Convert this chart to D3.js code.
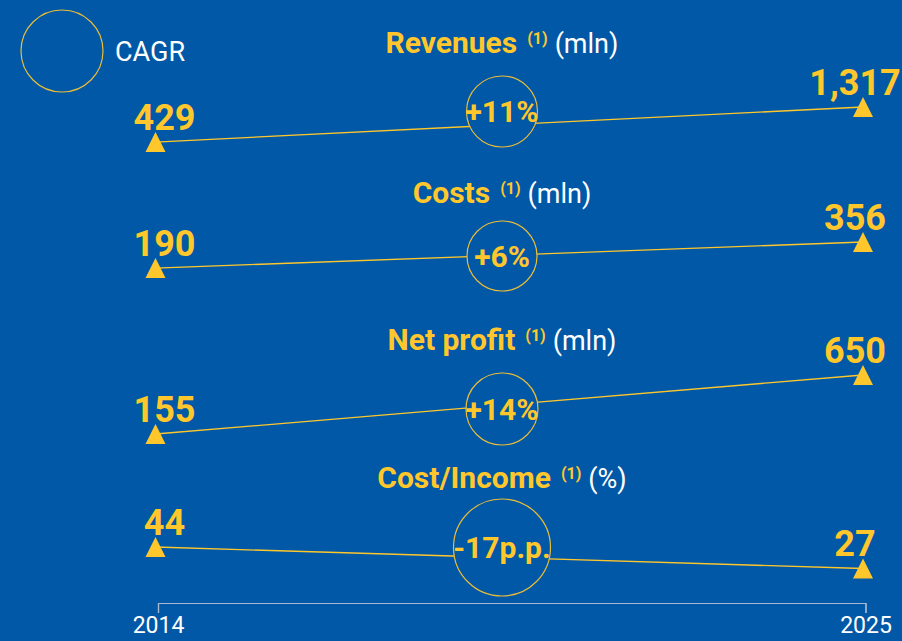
<!DOCTYPE html>
<html>
<head>
<meta charset="utf-8">
<script src="https://cdn.jsdelivr.net/npm/d3@7"></script>
<style>
  html, body { margin: 0; padding: 0; background: #0058A6; }
  svg { display: block; }
  text { font-family: Roboto, "Noto Sans", sans-serif; }
</style>
</head>
<body>
<script>
// ---- data ----
const metrics = ["Revenues", "Costs", "Net profit", "Cost/Income"];
const units = ["(mln)", "(mln)", "(mln)", "(%)"];
const footnote = "(1)";
const years = [2014, 2025];
const startValues = [429, 190, 155, 44];
const endValues = [1317, 356, 650, 27];
const cagrLabels = ["+11%", "+6%", "+14%", "-17p.p."];
const legendLabel = "CAGR";

// ---- layout ----
const W = 902, H = 641;
const BG = "#0058A6", YEL = "#FFC72C", CIRC = "#E9BC3A", AXIS = "#A9B9D3";
const centerX = 502;
const panelBottom = [159, 298, 452.5, 602.6];
const panelHeight = [52, 56, 77.5, 55.6];
const titleY = [53, 203, 350, 488];
const circleY = [111.5, 256, 409, 547.5];
const circleR = [35.5, 35, 36, 48.5];
const axisY = 603;

const svg = d3.select("body").append("svg").attr("width", W).attr("height", H);
svg.append("rect").attr("width", W).attr("height", H).attr("fill", BG);

const x = d3.scaleLinear().domain(years).range([155.5, 863]);
const fmt = d3.format(",");

// legend
svg.append("circle").attr("cx", 62).attr("cy", 51).attr("r", 41)
  .attr("fill", "none").attr("stroke", CIRC).attr("stroke-width", 1.2);
svg.append("text").attr("x", 115).attr("y", 61).attr("fill", "#fff")
  .attr("font-size", 27).text(legendLabel);

const tri = "M0,-10L10,10L-10,10Z";

metrics.forEach((m, i) => {
  const vals = [startValues[i], endValues[i]];
  const maxV = Math.max(...vals);
  const y = d3.scaleLinear().domain([0, maxV])
    .range([panelBottom[i], panelBottom[i] - panelHeight[i]]);
  const pts = years.map((yr, j) => ({ yr, v: vals[j] }));
  const g = svg.append("g");

  // title
  const t = g.append("text").attr("x", centerX).attr("y", titleY[i])
    .attr("text-anchor", "middle");
  t.append("tspan").attr("font-size", 30).attr("font-weight", 700)
    .attr("fill", YEL).text(m);
  t.append("tspan").attr("font-size", 16).attr("font-weight", 700)
    .attr("fill", YEL).attr("dx", 10).attr("dy", -9).text(footnote);
  t.append("tspan").attr("font-size", 27).attr("fill", "#fff")
    .attr("dx", 7).attr("dy", 9).text(units[i]);

  // line
  g.append("path").datum(pts)
    .attr("d", d3.line().x(d => x(d.yr)).y(d => y(d.v)))
    .attr("fill", "none").attr("stroke", YEL).attr("stroke-width", 1.3);

  // triangles
  g.selectAll("path.tri").data(pts).join("path").attr("class", "tri")
    .attr("d", tri)
    .attr("transform", d => `translate(${x(d.yr)},${y(d.v)})`)
    .attr("fill", YEL);

  // value labels
  g.selectAll("text.val").data(pts).join("text").attr("class", "val")
    .attr("x", (d, j) => x(d.yr) + (j === 0 ? 9 : -8))
    .attr("y", d => y(d.v) - 12)
    .attr("text-anchor", "middle")
    .attr("font-size", 36).attr("font-weight", 700).attr("fill", YEL)
    .text(d => fmt(d.v));

  // CAGR circle
  g.append("circle").attr("cx", centerX).attr("cy", circleY[i]).attr("r", circleR[i])
    .attr("fill", BG).attr("stroke", CIRC).attr("stroke-width", 1.2);
  g.append("text").attr("x", centerX).attr("y", circleY[i] + 10.5)
    .attr("text-anchor", "middle").attr("font-size", 30).attr("font-weight", 700)
    .attr("fill", YEL).text(cagrLabels[i]);
});

// axis
const axis = d3.axisBottom(x).tickValues(years).tickFormat(d3.format("d"))
  .tickSizeInner(10).tickSizeOuter(10).tickPadding(4);
const ag = svg.append("g").attr("transform", `translate(2.5,${axisY})`).call(axis);
ag.select(".domain").attr("stroke", AXIS).attr("stroke-width", 1.2);
ag.selectAll(".tick line").attr("stroke", AXIS).attr("stroke-width", 1.2);
ag.selectAll(".tick text").attr("fill", "#fff").attr("font-size", 23)
  .attr("font-family", "Roboto, 'Noto Sans', sans-serif");
</script>
</body>
</html>
